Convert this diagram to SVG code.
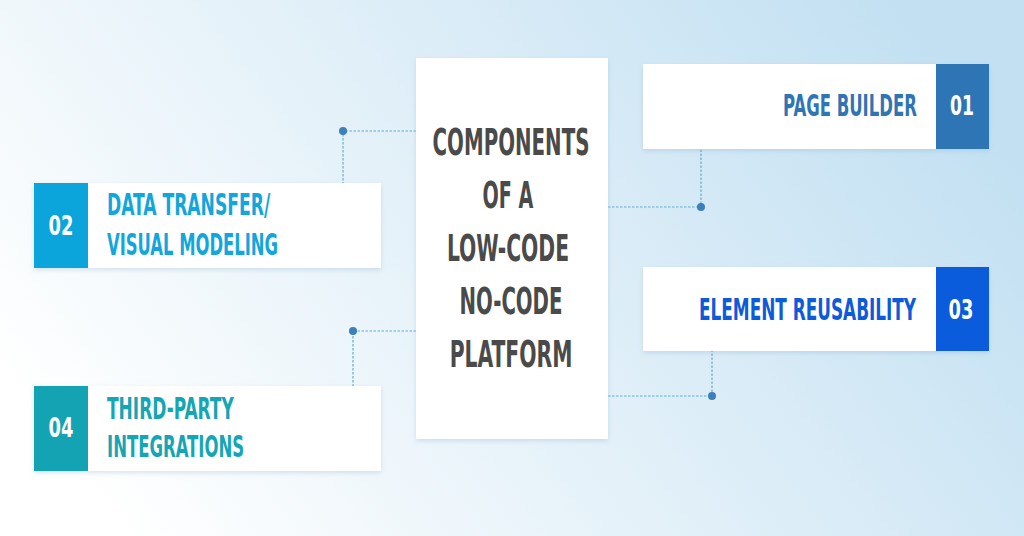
<svg xmlns="http://www.w3.org/2000/svg" width="1024" height="536" viewBox="0 0 1024 536">
<defs>
<linearGradient id="bg" x1="0" y1="0.7" x2="1" y2="0.3">
<stop offset="0" stop-color="#ffffff"/>
<stop offset="0.45" stop-color="#e4f1f9"/>
<stop offset="1" stop-color="#c2e0f2"/>
</linearGradient>
<filter id="sh" x="-10%" y="-10%" width="120%" height="130%">
<feDropShadow dx="0" dy="2" stdDeviation="2.5" flood-color="#7fa9c6" flood-opacity="0.3"/>
</filter>
<style>
.box{fill:#ffffff;filter:url(#sh)}
.t{font-family:"Liberation Sans Narrow","DejaVu Sans Condensed","Liberation Sans",sans-serif;font-weight:bold}
.ctr{fill:#4a4a4a;font-size:38px;text-anchor:middle}
.lbl{font-size:30px}
.num{font-size:27px;fill:#ffffff;text-anchor:middle}
.ln{fill:none;stroke:#5eb0d9;stroke-width:1.2;stroke-dasharray:2.5 1.5}
.dot{fill:#3b80b9}
</style>
</defs>
<rect width="1024" height="536" fill="url(#bg)"/>
<g id="connectors">
<polyline class="ln" points="416,131 343,131 343,183"/>
<polyline class="ln" points="416,331 353,331 353,386"/>
<polyline class="ln" points="608,207 701,207 701,149"/>
<polyline class="ln" points="608,396 712,396 712,351"/>
<circle class="dot" cx="343" cy="131" r="4"/>
<circle class="dot" cx="353" cy="331" r="4"/>
<circle class="dot" cx="701" cy="207" r="4"/>
<circle class="dot" cx="712" cy="396" r="4"/>
</g>
<g id="center">
<rect class="box" x="416" y="58" width="192" height="381"/>
<text class="t ctr" transform="translate(511,155) scale(0.62,1)" textLength="253" lengthAdjust="spacingAndGlyphs">COMPONENTS</text>
<text class="t ctr" transform="translate(508,208) scale(0.62,1)" textLength="82" lengthAdjust="spacingAndGlyphs">OF A</text>
<text class="t ctr" transform="translate(508,261) scale(0.62,1)" textLength="197" lengthAdjust="spacingAndGlyphs">LOW-CODE</text>
<text class="t ctr" transform="translate(511,314) scale(0.62,1)" textLength="166" lengthAdjust="spacingAndGlyphs">NO-CODE</text>
<text class="t ctr" transform="translate(511,367) scale(0.62,1)" textLength="198" lengthAdjust="spacingAndGlyphs">PLATFORM</text>
</g>
<g id="n01">
<rect class="box" x="643" y="64" width="346" height="85"/>
<rect x="936" y="64" width="53" height="85" fill="#2e75b6"/>
<text class="t lbl" transform="translate(783,116) scale(0.65,1)" fill="#2f75b5" textLength="206" lengthAdjust="spacingAndGlyphs">PAGE BUILDER</text>
<text class="t num" transform="translate(962,115) scale(0.8,1)" textLength="30" lengthAdjust="spacingAndGlyphs">01</text>
</g>
<g id="n03">
<rect class="box" x="643" y="267" width="346" height="84"/>
<rect x="936" y="267" width="53" height="84" fill="#0b5bdd"/>
<text class="t lbl" transform="translate(699,320) scale(0.65,1)" fill="#0d5bdb" textLength="334" lengthAdjust="spacingAndGlyphs">ELEMENT REUSABILITY</text>
<text class="t num" transform="translate(961,319) scale(0.8,1)" textLength="31" lengthAdjust="spacingAndGlyphs">03</text>
</g>
<g id="n02">
<rect class="box" x="34" y="183" width="347" height="85"/>
<rect x="34" y="183" width="54" height="85" fill="#0ba5dc"/>
<text class="t lbl" transform="translate(107,215) scale(0.65,1)" fill="#12a6dc" textLength="251" lengthAdjust="spacingAndGlyphs">DATA TRANSFER/</text>
<text class="t lbl" transform="translate(107,255) scale(0.65,1)" fill="#12a6dc" textLength="263" lengthAdjust="spacingAndGlyphs">VISUAL MODELING</text>
<text class="t num" transform="translate(61,235) scale(0.8,1)" textLength="31" lengthAdjust="spacingAndGlyphs">02</text>
</g>
<g id="n04">
<rect class="box" x="34" y="386" width="347" height="85"/>
<rect x="34" y="386" width="54" height="85" fill="#14a3b3"/>
<text class="t lbl" transform="translate(107,419) scale(0.65,1)" fill="#16a5b4" textLength="195" lengthAdjust="spacingAndGlyphs">THIRD-PARTY</text>
<text class="t lbl" transform="translate(107,457) scale(0.65,1)" fill="#16a5b4" textLength="211" lengthAdjust="spacingAndGlyphs">INTEGRATIONS</text>
<text class="t num" transform="translate(61,437) scale(0.8,1)" textLength="31" lengthAdjust="spacingAndGlyphs">04</text>
</g>
</svg>
